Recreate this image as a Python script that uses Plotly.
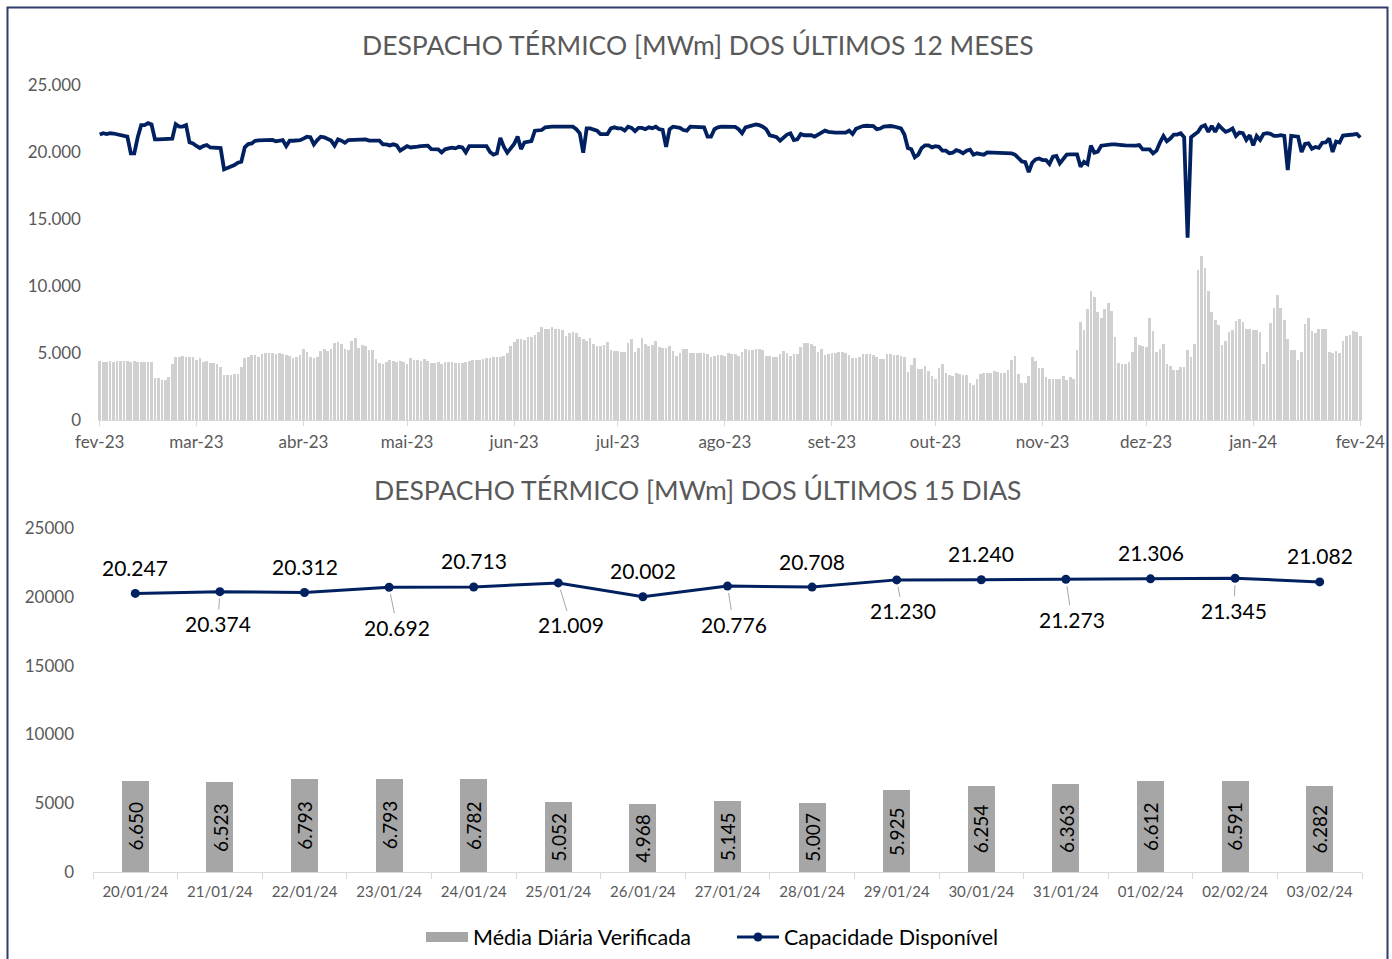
import pandas as pd
import plotly.graph_objects as go

# ---------------- DATA: top chart (daily, last 12 months) ----------------
disp_fev23 = [4400,4350,4300,4380,4350,4380,4400,4400,4400,4350,4380,4300,4300,4300,4330,4300,
              3100,3150,2980,2980,3230,4180,4720,4720,4800,4720,4720,4680]
disp_mar23 = [4480,4600,4350,4430,4280,4230,4180,3980,3350,3350,3350,3400,3400,3980,4600,4720,
              4850,4850,4720,4950,4970,4970,4970,4900,4970,4900,4850,4780,4600,4720,4850]
disp_abr23 = [5270,5070,4680,4600,4720,5170,5270,5170,5320,5720,5800,5650,5320,5220,5920,6090,
              5400,5570,5550,5220,5220,4530,4230,4150,4350,4480,4400,4330,4430,4330]
disp_mai23 = [4180,4600,4480,4480,4430,4530,4400,4280,4280,4300,4180,4330,4330,4330,4230,4230,
              4280,4330,4380,4480,4480,4500,4550,4600,4650,4680,4720,4720,4780,5020,5520]
disp_jun23 = [5800,6070,6020,5970,6220,6220,6320,6540,6940,6810,6790,6940,6810,6790,6690,6240,
              6470,6570,6470,6220,6020,5870,6120,5650,5550,5550,5570,5800,5220,5150]
disp_jul23 = [5150,5100,5100,5720,6070,5070,5400,6120,5650,5520,5620,5920,5470,5400,5370,5520,
              5170,4800,5020,5300,5300,4970,4970,5000,5000,4970,4900,4700,4800,4850,4870]
disp_ago23 = [4800,4970,4950,4950,4780,5070,5270,5250,5250,5270,5270,5220,4800,4750,4700,4700,
              4900,5150,4970,4780,4900,4900,5420,5720,5720,5670,5520,5100,5320,4820,4900]
disp_set23 = [4970,5000,5050,5050,5020,4870,4650,4650,4680,4950,4950,4900,4850,4680,4580,4530,
              4900,4900,4850,4850,4800,4700,3610,4100,4600,3830,3830,4030,3630,3280]
disp_out23 = [3080,3900,4150,3480,3360,3310,3480,3410,3360,3380,2740,2640,3080,3460,3510,3510,
              3530,3630,3560,3510,3510,3710,4480,4800,3410,2790,2760,3310,4720,4430,3900]
disp_nov23 = [3880,3230,3060,3060,3060,3060,3260,2980,3210,3080,5220,7310,6690,8260,9620,9200,
              8060,7610,8310,8700,8160,6170,4230,4180,4180,4350,5070,6190,5600,5520]
disp_dez23 = [5470,7590,6640,5050,5270,5650,4150,4030,3730,3730,3930,3980,5220,4680,5650,11170,
              12260,11370,9650,8080,7440,7090,5570,5920,6570,6690,7410,7560,7340,6810,6810]
disp_jan24 = [6720,6720,6590,4180,5050,7210,8330,9330,8380,7460,6040,5200,5200,4450,5100,7190,7610]

cap_fev23 = [21300,21400,21340,21400,21380,21340,21300,21200,21150,19900,19900,21100,22000,22000,
             22150,22050,20940,20940,20940,20940,20940,21000,22080,21900,21900,22000,20720,20640]
cap_mar23 = [20450,20300,20440,20520,20340,20340,20340,20300,18700,18800,18950,19030,19200,19270,
             20350,20590,20640,20840,20870,20890,20900,20900,20900,20800,20840,20890,20440,20840,
             20840,20840,20880]
cap_abr23 = [21000,21140,21100,20570,20890,21140,21100,20960,20850,20470,20940,20850,20690,20890,
             20890,20890,20890,20960,20940,20850,20840,20840,20850,20570,20570,20490,20570,20490,
             20100,20270]
cap_mai23 = [20440,20340,20400,20400,20440,20440,20470,20220,20200,20200,19970,20200,20270,20320,
             20270,20390,20340,19970,20440,20440,20440,20440,20440,20440,20000,19800,19900,21050,
             20390,19950,20270]
cap_jun23 = [20600,21150,20220,20720,20770,20820,21590,21590,21640,21840,21890,21890,21890,21890,
             21890,21890,21890,21890,21700,21400,19950,21760,21760,21640,21590,21340,21340,21340,
             21760,21840]
cap_jul23 = [21760,21760,21600,21890,21800,21560,21800,21800,21700,21840,21780,21890,21700,21650,
             20390,21690,21890,21860,21800,21640,21590,21890,21890,21890,21880,21840,21140,21140,
             21700,21840,21890]
cap_ago23 = [21890,21890,21890,21870,21700,21400,21840,21890,21950,22050,22000,21890,21700,21250,
             21190,21100,20840,21100,21300,21390,20890,20940,21340,21250,21250,21250,21150,21300,
             21460,21590,21500]
cap_set23 = [21440,21440,21440,21440,21440,21600,21340,21740,21840,21940,21960,21960,21940,21700,
             21750,21890,21940,21940,21900,21840,21760,21300,20300,20200,19600,19800,20300,20500,
             20500,20350]
cap_out23 = [20440,20390,20100,20100,19900,19950,20140,20050,19900,20090,20170,19800,19900,19850,
             19800,19970,19970,19970,19970,19970,19970,19970,19900,19800,19500,19300,19250,18500,
             19200,19450,19520]
cap_nov23 = [19400,19400,19100,19650,19700,19150,19500,19800,19820,19820,19820,18900,19270,19100,
             20470,19950,20020,20470,20520,20590,20570,20570,20570,20520,20490,20470,20440,20470,
             20520,20200]
cap_dez23 = [20200,20190,19900,20100,20700,21200,20800,21000,21300,21300,21400,21100,13600,21100,
             21300,21500,21890,22000,21500,21950,21500,22000,21750,21500,21600,21750,21200,21450,
             21400,20900,21250]
cap_jan24 = [20500,21200,20900,21350,21400,21350,21200,21200,21250,21200,18650,21200,21200,21140,
             20000,20600,20650]

mes_ticks = ["2023-02-01","2023-03-01","2023-04-01","2023-05-01","2023-06-01","2023-07-01",
             "2023-08-01","2023-09-01","2023-10-01","2023-11-01","2023-12-01","2024-01-01","2024-02-01"]
mes_labels = ["fev-23","mar-23","abr-23","mai-23","jun-23","jul-23","ago-23","set-23",
              "out-23","nov-23","dez-23","jan-24","fev-24"]

# ---------------- DATA: bottom chart (last 15 days) ----------------
datas_15d = ["20/01/24","21/01/24","22/01/24","23/01/24","24/01/24","25/01/24","26/01/24",
             "27/01/24","28/01/24","29/01/24","30/01/24","31/01/24","01/02/24","02/02/24","03/02/24"]
media_15d = [6650,6523,6793,6793,6782,5052,4968,5145,5007,5925,6254,6363,6612,6591,6282]
cap_15d = [20247,20374,20312,20692,20713,21009,20002,20776,20708,21230,21240,21273,21306,21345,21082]

# ---------------- assemble ----------------
despacho = (disp_fev23 + disp_mar23 + disp_abr23 + disp_mai23 + disp_jun23 + disp_jul23 +
            disp_ago23 + disp_set23 + disp_out23 + disp_nov23 + disp_dez23 + disp_jan24 + media_15d)
capacidade = (cap_fev23 + cap_mar23 + cap_abr23 + cap_mai23 + cap_jun23 + cap_jul23 +
              cap_ago23 + cap_set23 + cap_out23 + cap_nov23 + cap_dez23 + cap_jan24 + cap_15d)
dias = pd.date_range("2023-02-01", periods=len(despacho), freq="D")

FONT = "Lato"
NAVY = "#002060"
GREY_TXT = "#595959"
BAR_GREY = "#A6A6A6"

def fmt_br(v):
    return f"{v:,}".replace(",", ".")

fig = go.Figure()

# top chart
fig.add_trace(go.Bar(x=dias, y=despacho, marker=dict(color="#D0D0D0", line=dict(width=0)),
                     width=0.78 * 86400000, xaxis="x", yaxis="y", showlegend=False,
                     hoverinfo="x+y"))
fig.add_trace(go.Scatter(x=dias[:len(capacidade)], y=capacidade, mode="lines",
                         line=dict(color=NAVY, width=3.8), xaxis="x", yaxis="y", showlegend=False))

# bottom chart
fig.add_trace(go.Bar(x=datas_15d, y=media_15d, marker=dict(color=BAR_GREY, line=dict(width=0)),
                     width=0.32, name="Média Diária Verificada", xaxis="x2", yaxis="y2",
                     showlegend=False, legendgroup="media"))
# legend entry for the bars drawn as a wide grey block (like the reference's legend key)
fig.add_trace(go.Scatter(x=[None], y=[None], mode="lines", line=dict(color=BAR_GREY, width=14),
                         name="Média Diária Verificada", xaxis="x2", yaxis="y2", legendgroup="media"))
fig.add_trace(go.Scatter(x=datas_15d, y=cap_15d, mode="lines+markers",
                         line=dict(color=NAVY, width=3), marker=dict(color=NAVY, size=9),
                         name="Capacidade Disponível", xaxis="x2", yaxis="y2"))

annotations = []
# titles
annotations.append(dict(text="DESPACHO TÉRMICO [MWm] DOS ÚLTIMOS 12 MESES", xref="paper", yref="paper",
                        x=698 / 1392, y=1 - 45 / 959, showarrow=False, yanchor="middle",
                        font=dict(family=FONT, size=26.5, color=GREY_TXT)))
annotations.append(dict(text="DESPACHO TÉRMICO [MWm] DOS ÚLTIMOS 15 DIAS", xref="paper", yref="paper",
                        x=698 / 1392, y=1 - 490 / 959, showarrow=False, yanchor="middle",
                        font=dict(family=FONT, size=26.5, color=GREY_TXT)))

# bar value labels (rotated, inside bars)
for d, v in zip(datas_15d, media_15d):
    annotations.append(dict(x=d, y=v / 2, xref="x2", yref="y2", text=fmt_br(v), textangle=-90,
                            showarrow=False, font=dict(family=FONT, size=19, color="#000000")))

# line value labels: alternate above / below (below ones with leader lines)
below_offsets = {1: (-2, 32), 3: (8, 40), 5: (13, 42), 7: (6, 38), 9: (6, 31), 11: (6, 40), 13: (-1, 32)}
for i, (d, v) in enumerate(zip(datas_15d, cap_15d)):
    if i in below_offsets:
        ax, ay = below_offsets[i]
        annotations.append(dict(x=d, y=v, xref="x2", yref="y2", text=fmt_br(v), showarrow=True,
                                arrowhead=0, arrowwidth=1, arrowcolor=BAR_GREY, ax=ax, ay=ay,
                                standoff=7, font=dict(family=FONT, size=21, color="#000000")))
    else:
        annotations.append(dict(x=d, y=v, xref="x2", yref="y2", text=fmt_br(v), showarrow=False,
                                yshift=26, font=dict(family=FONT, size=21, color="#000000")))

fig.update_layout(
    width=1392, height=959,
    margin=dict(l=0, r=0, t=0, b=0, autoexpand=False),
    paper_bgcolor="white", plot_bgcolor="white",
    separators=",.",
    font=dict(family=FONT, color=GREY_TXT),
    bargap=0,
    xaxis=dict(domain=[98 / 1392, 1362 / 1392], type="date", automargin=False,
               range=[pd.Timestamp("2023-02-01") - pd.Timedelta(hours=12),
                      dias[-1] + pd.Timedelta(hours=12)],
               tickvals=mes_ticks, ticktext=mes_labels, showgrid=False, zeroline=False,
               showline=True, linecolor="#D9D9D9", linewidth=1, ticks="outside", ticklen=5,
               tickcolor="#D9D9D9", ticklabelstandoff=2,
               tickfont=dict(size=17, color=GREY_TXT, family=FONT), anchor="y"),
    yaxis=dict(domain=[1 - 420 / 959, 1 - 85 / 959], range=[0, 25000], automargin=False,
               tickvals=[0, 5000, 10000, 15000, 20000, 25000], tickformat=",d",
               showgrid=False, zeroline=False, showline=False, ticks="",
               ticklabelstandoff=16, tickfont=dict(size=17, color=GREY_TXT, family=FONT),
               anchor="x"),
    xaxis2=dict(domain=[93 / 1392, 1362 / 1392], type="category", showgrid=False, zeroline=False,
                automargin=False, range=[-0.5, len(datas_15d) - 0.5],
                showline=True, linecolor="#D9D9D9", linewidth=1, ticks="outside", ticklen=6,
                tickcolor="#D9D9D9", tickson="boundaries", ticklabelstandoff=6,
                tickfont=dict(size=15, color=GREY_TXT, family=FONT), anchor="y2"),
    yaxis2=dict(domain=[1 - 872 / 959, 1 - 528 / 959], range=[0, 25000], automargin=False,
                tickvals=[0, 5000, 10000, 15000, 20000, 25000], tickformat="d",
                showgrid=False, zeroline=False, showline=False, ticks="",
                ticklabelstandoff=18, tickfont=dict(size=17, color=GREY_TXT, family=FONT),
                anchor="x2"),
    legend=dict(orientation="h", x=421 / 1392, xanchor="left", y=1 - 937 / 959, yanchor="middle",
                font=dict(size=21.5, color="#000000", family=FONT), itemwidth=42,
                entrywidth=254, bgcolor="rgba(0,0,0,0)", traceorder="normal"),
    annotations=annotations,
    shapes=[dict(type="rect", xref="paper", yref="paper", x0=7.5 / 1392, x1=1387.5 / 1392,
                 y0=-0.02, y1=1 - 7.5 / 959, line=dict(color="#2F3D6B", width=2),
                 fillcolor="rgba(0,0,0,0)", layer="above")],
)

fig.write_html("out.html", config={"displayModeBar": False},
               post_script="document.body.style.margin='0';document.body.style.overflow='hidden';")
